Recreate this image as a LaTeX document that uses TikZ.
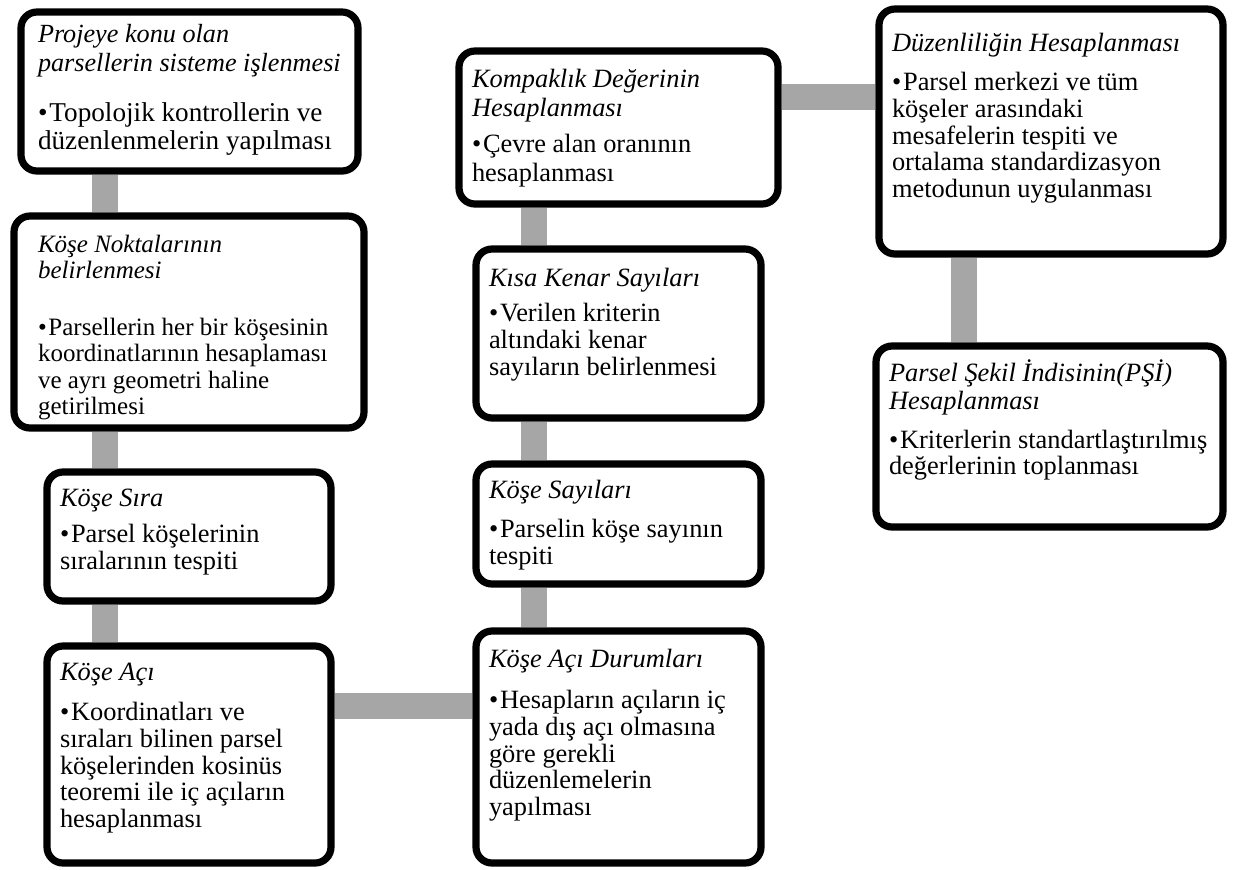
\documentclass[tikz,border=0pt]{standalone}
\usepackage{fontspec}
\setmainfont{Liberation Serif}
\usetikzlibrary{shadows,backgrounds}

\newcommand{\cardfont}[2]{\fontsize{#1}{#2}\selectfont}
\newcommand{\cardbox}[3]{\parbox[c][#2][t]{#1}{\raggedright #3}}
\newcommand{\cardtitle}[1]{\textit{\strut #1}\par}
\newcommand{\carditem}[1]{\hangindent=0.42em\hangafter=1\noindent\makebox[0.42em][l]{\textbullet}#1\par}

\tikzset{
  card/.style={draw, line width=3.6pt, rounded corners=8pt, fill=white,
    inner xsep=6.5pt, inner ysep=8pt,
    drop shadow={shadow xshift=1pt, shadow yshift=-1.5pt, opacity=0.35}},
  link/.style={draw=black!35, line width=13pt}
}

\begin{document}
\begin{tikzpicture}[x=0.5pt, y=-0.5pt]
\useasboundingbox (0,0) rectangle (1241,869);
% left column
\node[card, inner xsep=8.5pt] (proje) at (189.5,91.5) {\cardbox{151.5pt}{63.5pt}{\cardfont{13.1}{14.5}\vspace*{-3pt}\cardtitle{Projeye konu olan\\parsellerin sisteme işlenmesi}\vspace{11pt}\cardfont{13.6}{14}\carditem{Topolojik kontrollerin ve\\düzenlenmelerin yapılması}}};
\node[card, inner xsep=12pt] (kose) at (189,322) {\cardbox{151pt}{90pt}{\cardfont{12.5}{12.8}\vspace*{1.5pt}\cardtitle{Köşe Noktalarının\\belirlenmesi}\vspace{15.5pt}\cardfont{12.5}{13.1}\carditem{Parsellerin her bir köşesinin\\koordinatlarının hesaplaması\\ve ayrı geometri haline\\getirilmesi}}};
\node[card] (sira) at (189,536.5) {\cardbox{129pt}{48.5pt}{\cardfont{13.2}{13.4}\cardtitle{Köşe Sıra}\vspace{4.5pt}\carditem{Parsel köşelerinin\\sıralarının tespiti}}};
\node[card] (aci) at (189,754.5) {\cardbox{129pt}{92.5pt}{\cardfont{13.2}{13.4}\cardtitle{Köşe Açı}\vspace{6.5pt}\carditem{Koordinatları ve\\sıraları bilinen parsel\\köşelerinden kosinüs\\teoremi ile iç açıların\\hesaplanması}}};

% middle column
\node[card] (kompakt) at (618.5,127.5) {\cardbox{146.5pt}{60.5pt}{\cardfont{13.2}{14.2}\vspace*{0.5pt}\cardtitle{Kompaklık Değerinin\\Hesaplanması}\vspace{4pt}\carditem{Çevre alan oranının\\hesaplanması}}};
\node[card] (kisa) at (618.5,333.5) {\cardbox{129.5pt}{68.5pt}{\cardfont{13.2}{13.4}\vspace*{1.5pt}\cardtitle{Kısa Kenar Sayıları}\vspace{4pt}\carditem{Verilen kriterin\\altındaki kenar\\sayıların belirlenmesi}}};
\node[card] (sayi) at (618.5,524) {\cardbox{129.5pt}{44pt}{\cardfont{13.2}{13.4}\cardtitle{Köşe Sayıları}\vspace{6pt}\carditem{Parselin köşe sayının\\tespiti}}};
\node[card] (durum) at (618.5,747) {\cardbox{129.5pt}{100pt}{\cardfont{13.2}{13.4}\vspace*{1pt}\cardtitle{Köşe Açı Durumları}\vspace{7pt}\carditem{Hesapların açıların iç\\yada dış açı olmasına\\göre gerekli\\düzenlemelerin\\yapılması}}};

% right column
\node[card] (duzen) at (1051,131.5) {\cardbox{159pt}{106.5pt}{\cardfont{13.2}{13.4}\vspace*{4pt}\cardtitle{Düzenliliğin Hesaplanması}\vspace{6pt}\carditem{Parsel merkezi ve tüm\\köşeler arasındaki\\mesafelerin tespiti ve\\ortalama standardizasyon\\metodunun uygulanması}}};
\node[card] (psi) at (1049.5,436.5) {\cardbox{160.5pt}{74.5pt}{\cardfont{13.2}{13.0}\vspace*{-1pt}\cardtitle{Parsel Şekil İndisinin(PŞİ)\\Hesaplanması}\vspace{6.5pt}\carditem{Kriterlerin standartlaştırılmış\\değerlerinin toplanması}}};

% gray links
\coordinate (lcol) at (104.5,0);
\coordinate (mcol) at (533.5,0);
\coordinate (rcol) at (963.5,0);
\coordinate (toprow) at (0,96.5);
\coordinate (botrow) at (0,706);
\begin{scope}[on background layer]
\draw[link] (proje.south -| lcol) -- (kose.north -| lcol);
\draw[link] (kose.south -| lcol) -- (sira.north -| lcol);
\draw[link] (sira.south -| lcol) -- (aci.north -| lcol);
\draw[link] (aci.east |- botrow) -- (durum.west |- botrow);
\draw[link] (durum.north -| mcol) -- (sayi.south -| mcol);
\draw[link] (sayi.north -| mcol) -- (kisa.south -| mcol);
\draw[link] (kisa.north -| mcol) -- (kompakt.south -| mcol);
\draw[link] (kompakt.east |- toprow) -- (duzen.west |- toprow);
\draw[link] (duzen.south -| rcol) -- (psi.north -| rcol);
\end{scope}
\end{tikzpicture}
\end{document}
